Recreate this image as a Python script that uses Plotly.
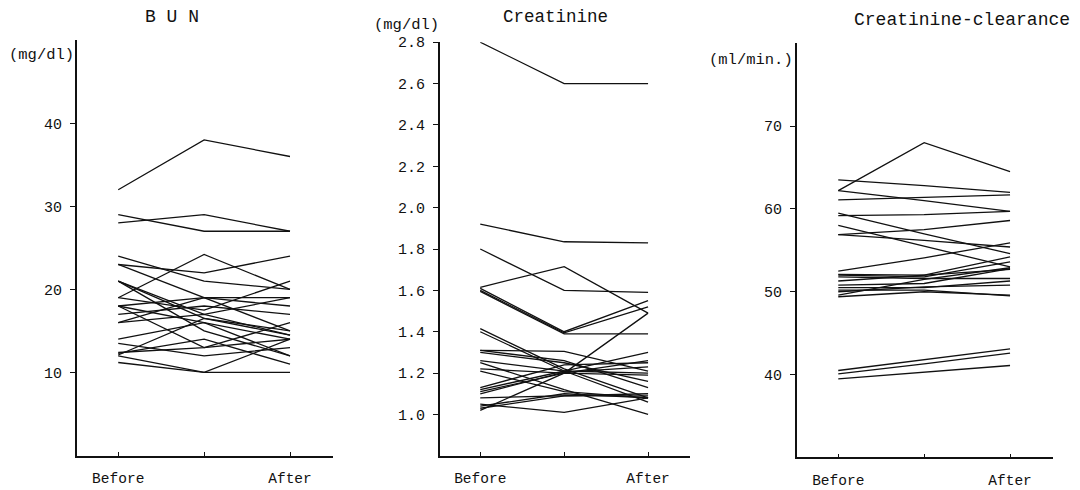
import plotly.graph_objects as go

stages = [0, 1, 2]
stage_labels = ["Before", "", "After"]

bun_before = [32, 29, 28, 24, 19, 23, 23, 21, 21, 21, 19, 18, 18, 18, 17, 16, 14, 13.5, 12.3, 12.1, 12, 11.2, 12.4, 16]
bun_mid    = [38, 27, 29, 21, 24.2, 22, 19, 17, 16.5, 15, 17.5, 19, 16, 13, 18, 17, 16, 12, 14, 16.5, 10, 10, 13, 19]
bun_after  = [36, 27, 27, 20, 20, 24, 15, 19, 14.5, 12, 21, 18, 12, 14, 17, 14.5, 14, 13, 11, 15, 10, 14, 16, 19]

cre_before = [2.80, 1.92, 1.80, 1.615, 1.61, 1.60, 1.595, 1.415, 1.40, 1.31, 1.31, 1.30, 1.26, 1.25, 1.22, 1.21, 1.13, 1.12, 1.11, 1.10, 1.08, 1.05, 1.04, 1.02, 1.03]
cre_mid    = [2.60, 1.835, 1.60, 1.715, 1.40, 1.395, 1.39, 1.22, 1.21, 1.26, 1.305, 1.25, 1.21, 1.12, 1.20, 1.11, 1.24, 1.21, 1.20, 1.205, 1.09, 1.01, 1.10, 1.20, 1.09]
cre_after  = [2.60, 1.83, 1.59, 1.49, 1.55, 1.52, 1.39, 1.08, 1.06, 1.13, 1.21, 1.16, 1.30, 1.00, 1.26, 1.08, 1.25, 1.20, 1.19, 1.23, 1.10, 1.08, 1.08, 1.49, 1.09]

ccr_before = [62.2, 63.5, 62.2, 61.1, 59.5, 59.2, 56.9, 58.0, 56.9, 52.5, 52.1, 52.0, 51.8, 51.3, 50.8, 50.5, 50.2, 50.0, 49.6, 49.4, 40.5, 40.1, 39.5]
ccr_mid    = [68.0, 62.8, 61.0, 61.4, 57.0, 59.3, 57.5, 55.5, 56.2, 54.1, 52.0, 51.8, 51.6, 52.0, 51.0, 50.5, 50.2, 50.6, 51.5, 50.0, 41.8, 41.3, 40.3]
ccr_after  = [64.5, 62.0, 59.7, 61.7, 54.6, 59.7, 58.6, 53.0, 55.4, 55.9, 54.2, 53.6, 51.6, 52.7, 52.8, 51.3, 49.5, 50.8, 52.9, 49.6, 43.1, 42.6, 41.1]

FONT = "Liberation Mono, Courier New, monospace"
LINE = dict(color="#111111", width=1.3)

fig = go.Figure()

def add_panel(before, mid, after, xa, ya):
    for b, m, a in zip(before, mid, after):
        fig.add_trace(go.Scatter(x=stages, y=[b, m, a], mode="lines", line=LINE,
                                 xaxis=xa, yaxis=ya, showlegend=False, hoverinfo="skip"))

add_panel(bun_before, bun_mid, bun_after, "x", "y")
add_panel(cre_before, cre_mid, cre_after, "x2", "y2")
add_panel(ccr_before, ccr_mid, ccr_after, "x3", "y3")

def xaxis(domain, anchor):
    return dict(domain=domain, anchor=anchor, range=[-0.48, 2.5], tickmode="array",
                tickvals=stages, ticktext=stage_labels, ticks="inside", ticklen=4,
                tickcolor="#111", showline=True, linecolor="#111", linewidth=1.6,
                showgrid=False, zeroline=False, ticklabelstandoff=8,
                tickfont=dict(family=FONT, size=14.5, color="#111"))

def yaxis(domain, anchor, rng, tickvals, fmt):
    return dict(domain=domain, anchor=anchor, range=rng, tickmode="array",
                tickvals=tickvals, ticktext=[fmt.format(v) for v in tickvals],
                ticks="outside", ticklen=5, tickcolor="#111", showline=True,
                linecolor="#111", linewidth=2, showgrid=False, zeroline=False,
                ticklabelstandoff=5,
                tickfont=dict(family=FONT, size=15, color="#111"))

fig.update_layout(
    width=1080, height=490,
    margin=dict(l=0, r=0, t=0, b=0),
    paper_bgcolor="white", plot_bgcolor="white",
    xaxis=xaxis([0.0713, 0.3083], "y"),
    yaxis=yaxis([0.0714, 0.9312], "x", [0, 50], [10, 20, 30, 40], "{:d}"),
    xaxis2=xaxis([0.4074, 0.6389], "y2"),
    yaxis2=yaxis([0.0708, 0.9271], "x2", [0.8, 2.8],
                 [1.0, 1.2, 1.4, 1.6, 1.8, 2.0, 2.2, 2.4, 2.6, 2.8], "{:.1f}"),
    xaxis3=xaxis([0.738, 0.975], "y3"),
    yaxis3=yaxis([0.0673, 0.9251], "x3", [30, 80], [40, 50, 60, 70], "{:d}"),
)

ann = [
    dict(text="B U N", x=172, y=10, size=18),
    dict(text="Creatinine", x=555, y=10, size=17.5),
    dict(text="Creatinine-clearance", x=962, y=13, size=18),
    dict(text="(mg/dl)", x=41, y=49, size=15.5),
    dict(text="(mg/dl)", x=406, y=18.5, size=15.5),
    dict(text="(ml/min.)", x=751, y=54, size=15.5),
]
for a in ann:
    fig.add_annotation(text=a["text"], x=a["x"] / 1080, y=1 - a["y"] / 490,
                       xref="paper", yref="paper", showarrow=False,
                       xanchor="center", yanchor="middle",
                       font=dict(family=FONT, size=a["size"], color="#111"))

fig.write_html("out.html", config={"displayModeBar": False},
               post_script="document.body.style.margin='0';document.body.style.overflow='hidden';")
